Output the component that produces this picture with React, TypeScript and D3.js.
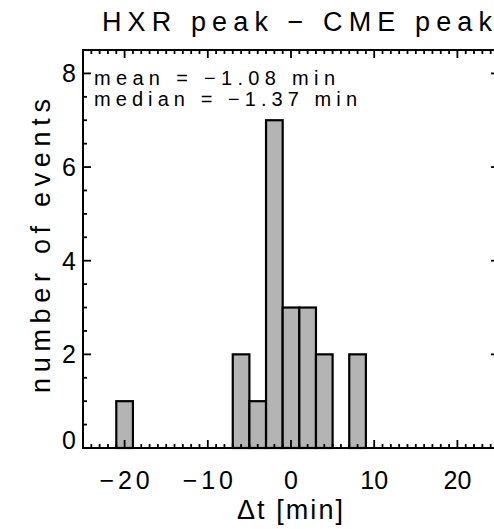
import React from 'react'
import * as d3 from 'd3'

// histogram of HXR peak - CME peak time differences (2-min bins)
const binCenters = [-24, -22, -20, -18, -16, -14, -12, -10, -8, -6, -4, -2, 0, 2, 4, 6, 8, 10, 12, 14, 16, 18, 20, 22, 24]
const counts = [0, 0, 1, 0, 0, 0, 0, 0, 0, 2, 1, 7, 3, 3, 2, 0, 2, 0, 0, 0, 0, 0, 0, 0, 0]
const BIN_WIDTH = 2

const xTicks = [-20, -10, 0, 10, 20]
const yTicks = [0, 2, 4, 6, 8]
const X_DOMAIN = [-25, 25]
const Y_DOMAIN = [0, 8.5]

const W = 494
const H = 529
const PLOT = { left: 83, right: 499, top: 50, bottom: 448 }
const FONT = '"Liberation Sans", Arial, Helvetica, sans-serif'
const MAJOR = 8
const MINOR = 4

const fmt = (v: number) => (v < 0 ? '\u2212' + Math.abs(v) : String(v))

export default function App() {
  const x = d3.scaleLinear().domain(X_DOMAIN).range([PLOT.left, PLOT.right])
  const y = d3.scaleLinear().domain(Y_DOMAIN).range([PLOT.bottom, PLOT.top])

  const xMinor = x.ticks(50).filter(v => !xTicks.includes(v))
  const yMinor = y.ticks(17).filter(v => !yTicks.includes(v))

  const bins = binCenters.map((c, i) => ({ c, n: counts[i] })).filter(d => d.n > 0)

  return (
    <svg width={W} height={H} style={{ position: 'absolute', left: 0, top: 0, background: '#fff' }}
      fontFamily={FONT}>
      {/* bars */}
      {bins.map(d => (
        <rect key={d.c}
          x={x(d.c - BIN_WIDTH / 2)} y={y(d.n)}
          width={x(d.c + BIN_WIDTH / 2) - x(d.c - BIN_WIDTH / 2)}
          height={y(0) - y(d.n)}
          fill="#b4b4b4" stroke="#000" strokeWidth={2.2} />
      ))}

      {/* frame */}
      <rect x={PLOT.left} y={PLOT.top} width={PLOT.right - PLOT.left} height={PLOT.bottom - PLOT.top}
        fill="none" stroke="#000" strokeWidth={2} />

      {/* ticks on all four sides */}
      <g stroke="#000" strokeWidth={1.8}>
        {xTicks.map(v => (
          <g key={'xM' + v}>
            <line x1={x(v)} x2={x(v)} y1={PLOT.bottom} y2={PLOT.bottom - MAJOR} />
            <line x1={x(v)} x2={x(v)} y1={PLOT.top} y2={PLOT.top + MAJOR} />
          </g>
        ))}
        {xMinor.map(v => (
          <g key={'xm' + v}>
            <line x1={x(v)} x2={x(v)} y1={PLOT.bottom} y2={PLOT.bottom - MINOR} />
            <line x1={x(v)} x2={x(v)} y1={PLOT.top} y2={PLOT.top + MINOR} />
          </g>
        ))}
        {yTicks.map(v => (
          <g key={'yM' + v}>
            <line x1={PLOT.left} x2={PLOT.left + MAJOR} y1={y(v)} y2={y(v)} />
            <line x1={PLOT.right} x2={PLOT.right - MAJOR} y1={y(v)} y2={y(v)} />
          </g>
        ))}
        {yMinor.map(v => (
          <g key={'ym' + v}>
            <line x1={PLOT.left} x2={PLOT.left + MINOR} y1={y(v)} y2={y(v)} />
            <line x1={PLOT.right} x2={PLOT.right - MINOR} y1={y(v)} y2={y(v)} />
          </g>
        ))}
      </g>

      {/* tick labels */}
      <g fontSize={25} fill="#000">
        {xTicks.map(v => (
          <text key={'xl' + v} x={x(v)} y={489} textAnchor="middle"
            textLength={v < 0 ? 50 : undefined} lengthAdjust="spacing">
            {fmt(v)}
          </text>
        ))}
        {yTicks.map(v => (
          <text key={'yl' + v} x={76} y={v === 0 ? 449 : y(v) + 9} textAnchor="end">
            {fmt(v)}
          </text>
        ))}
      </g>

      {/* titles */}
      <text x={102} y={31} fontSize={27} textLength={390} lengthAdjust="spacing">
        HXR peak {'\u2212'} CME peak
      </text>
      <text x={237} y={519} fontSize={27} textLength={106} lengthAdjust="spacing">
        Δt [min]
      </text>
      <text transform="translate(50,393) rotate(-90)" fontSize={27} textLength={294} lengthAdjust="spacing">
        number of events
      </text>

      {/* stats */}
      <text x={94} y={85} fontSize={20} textLength={241} lengthAdjust="spacing">
        mean = {'\u2212'}1.08 min
      </text>
      <text x={94} y={106} fontSize={20} textLength={263} lengthAdjust="spacing">
        median = {'\u2212'}1.37 min
      </text>
    </svg>
  )
}
